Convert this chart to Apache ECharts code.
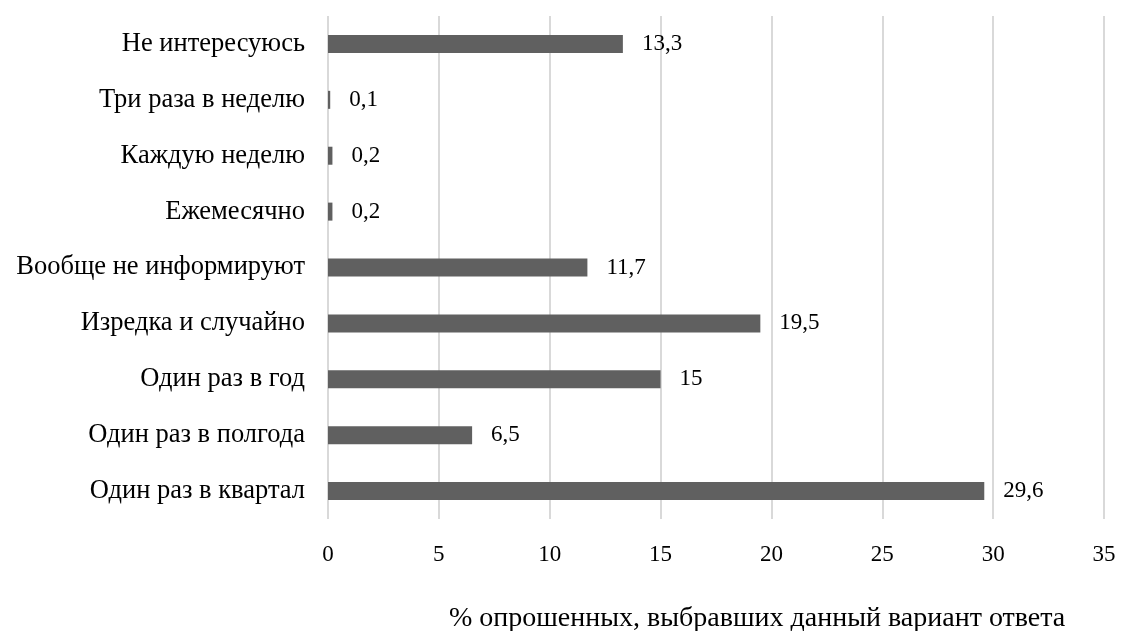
<!DOCTYPE html>
<html><head><meta charset="utf-8">
<script src="https://cdn.jsdelivr.net/npm/echarts@6/dist/echarts.min.js"></script>
<style>html,body{margin:0;padding:0;background:#fff}#c{width:1129px;height:631px}</style>
</head><body><div id="c"></div>
<script>
const categories = ["Один раз в квартал","Один раз в полгода","Один раз в год","Изредка и случайно","Вообще не информируют","Ежемесячно","Каждую неделю","Три раза в неделю","Не интересуюсь"];
const values = [29.6, 6.5, 15, 19.5, 11.7, 0.2, 0.2, 0.1, 13.3];
const axisTitle = "% опрошенных, выбравших данный вариант ответа";
const font = "'Liberation Serif', 'Times New Roman', serif";
const chart = echarts.init(document.getElementById('c'));
chart.setOption({
  animation: false,
  title: { text: axisTitle, left: 444, top: 600, textStyle: { fontFamily: font, fontSize: 28, fontWeight: 'normal', color: '#000' } },
  grid: { left: 328, right: 25, top: 16, bottom: 112, containLabel: false },
  xAxis: { type: 'value', min: 0, max: 35, interval: 5,
    axisLine: { show: false }, axisTick: { show: false },
    splitLine: { lineStyle: { color: '#d9d9d9', width: 2 } },
    axisLabel: { margin: 24, fontFamily: font, fontSize: 23, color: '#000' } },
  yAxis: { type: 'category', data: categories,
    axisLine: { show: false }, axisTick: { show: false },
    axisLabel: { margin: 23, fontFamily: font, fontSize: 26.5, color: '#000' } },
  series: [{ type: 'bar', data: values, barWidth: 18,
    itemStyle: { color: '#606060' },
    label: { show: true, position: 'right', distance: 19, fontFamily: font, fontSize: 23, color: '#000',
      formatter: p => String(p.value).replace('.', ',') } }]
});
</script></body></html>
